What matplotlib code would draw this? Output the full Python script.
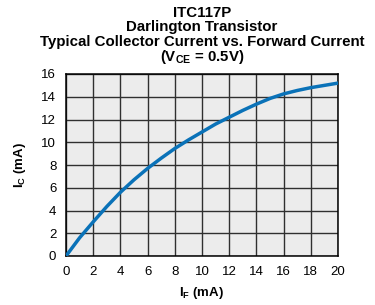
import matplotlib
matplotlib.use("Agg")
import matplotlib.pyplot as plt
import numpy as np

plt.rcParams['font.family'] = ['Liberation Sans', 'DejaVu Sans']
plt.rcParams['mathtext.fontset'] = 'custom'
plt.rcParams['mathtext.rm'] = 'Liberation Sans'
plt.rcParams['mathtext.bf'] = 'Liberation Sans:bold'
plt.rcParams['mathtext.it'] = 'Liberation Sans:italic'

# Data
i_f = [0, 1, 2, 3, 4, 5, 6, 7, 8, 9, 10, 11, 12, 13, 14, 15, 16, 17, 18, 19, 20]
i_c = [0, 1.6, 3.0, 4.35, 5.6, 6.7, 7.7, 8.6, 9.45, 10.2, 10.9, 11.6, 12.2, 12.8, 13.35, 13.85, 14.25, 14.55, 14.8, 15.0, 15.2]
x_ticks = [0, 2, 4, 6, 8, 10, 12, 14, 16, 18, 20]
y_ticks = [0, 2, 4, 6, 8, 10, 12, 14, 16]

fig = plt.figure(figsize=(3.75, 3.05), dpi=100)
ax = fig.add_axes([66/375, 49/305, 272/375, 182/305])
ax.set_facecolor('#ececec')
ax.plot(i_f, i_c, color='#0a72b8', lw=2.5, solid_capstyle='round', zorder=3)
ax.set_xlim(0, 20)
ax.set_ylim(0, 16)
ax.set_xticks(x_ticks)
ax.set_yticks(y_ticks)
ax.grid(True, color='#303030', lw=1.0)
ax.set_axisbelow(True)
ax.tick_params(length=0, labelsize=9.5, pad=7)
for s in ax.spines.values():
    s.set_linewidth(1.1)
    s.set_color('black')

ax.set_xlabel(r'$\mathbf{I_F}$ (mA)', fontsize=9.5, fontweight='bold', labelpad=5)
ax.set_ylabel(r'$\mathbf{I_C}$ (mA)', fontsize=9.5, fontweight='bold', labelpad=10)

cx = 202/375
fs = 10.8
fig.text(cx, 1 - 17/305, 'ITC117P', ha='center', va='baseline', fontsize=fs, fontweight='bold')
fig.text(cx, 1 - 31.5/305, 'Darlington Transistor', ha='center', va='baseline', fontsize=fs, fontweight='bold')
fig.text(cx, 1 - 46/305, 'Typical Collector Current vs. Forward Current', ha='center', va='baseline', fontsize=fs, fontweight='bold')
fig.text(cx, 1 - 60.5/305, r'($\mathbf{V_{CE}}$ = 0.5V)', ha='center', va='baseline', fontsize=fs, fontweight='bold')

fig.savefig('out.png', dpi=100)
